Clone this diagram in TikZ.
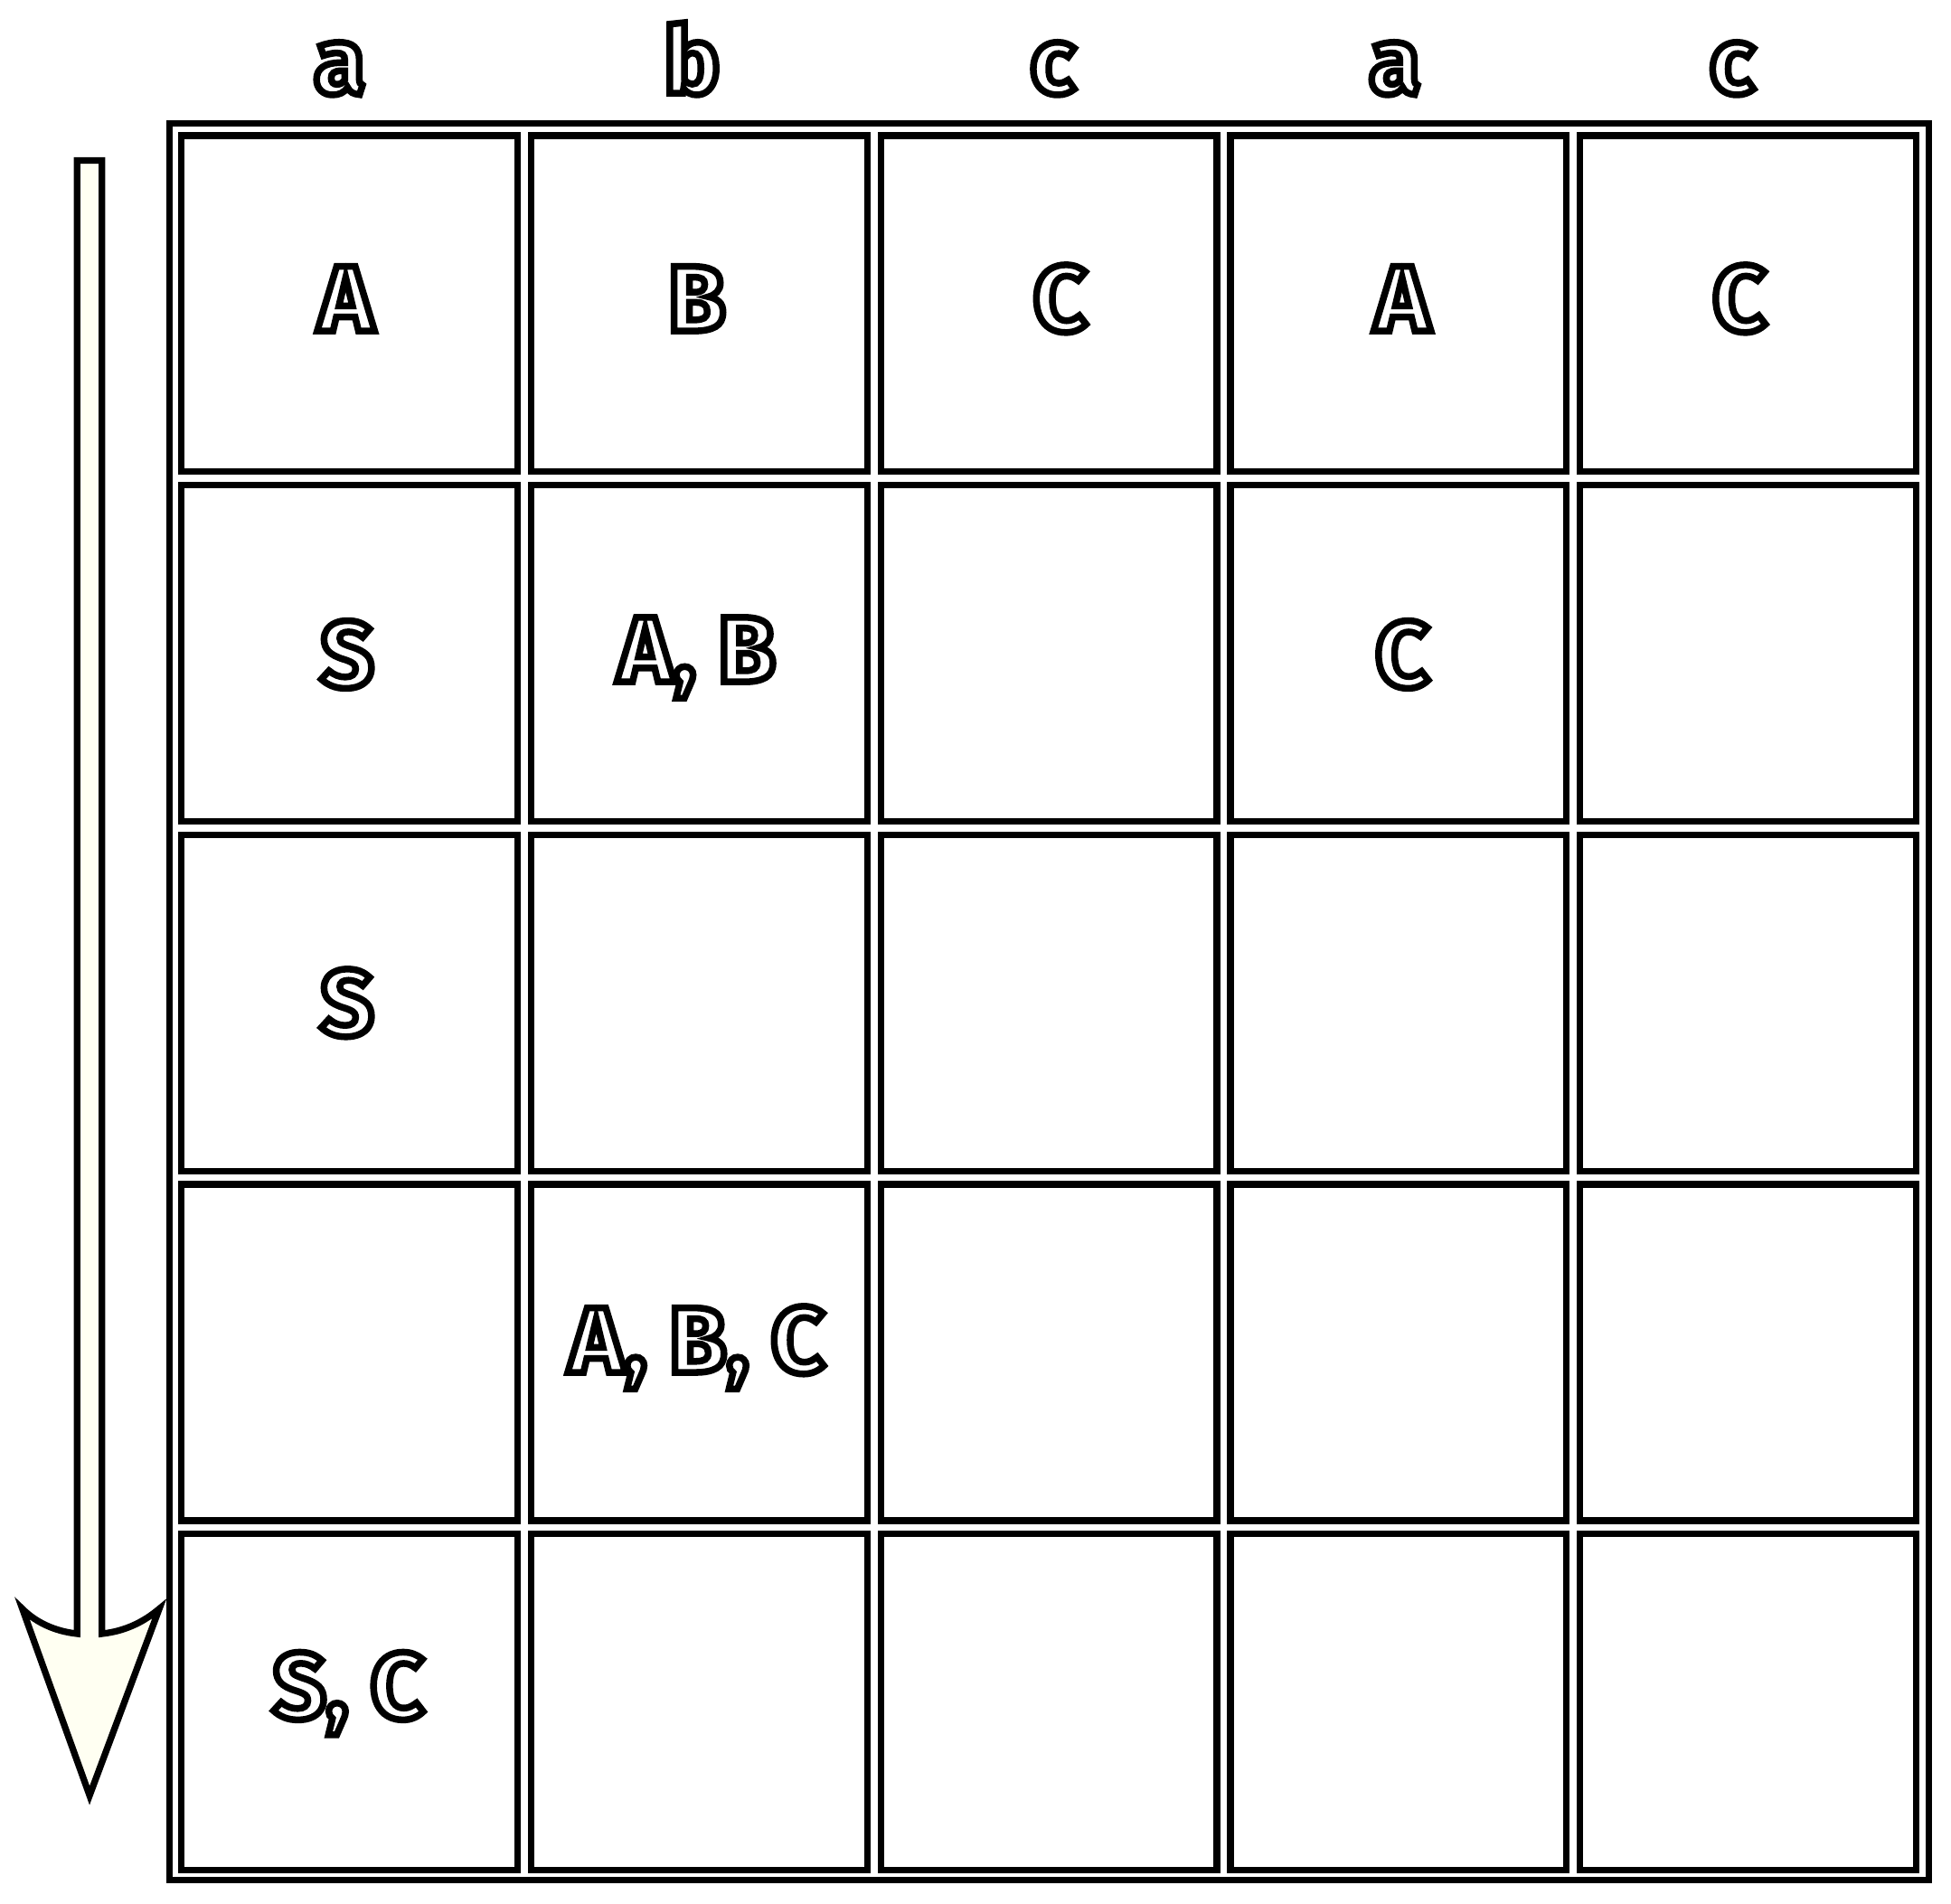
\documentclass[tikz,border=0pt]{standalone}
\usepackage{fontspec}
\setmainfont{Fira Sans}
\newcommand\outl[1]{\special{pdf:literal direct 2 Tr 1.55 w 1 g 0 G}#1\special{pdf:literal direct 0 Tr 0 g 0 G}}
\definecolor{arrowfill}{RGB}{255,255,242}
\tikzset{
  cellbox/.style={draw, line width=1.5pt, minimum width=2.7cm, minimum height=2.7cm, inner sep=0pt},
  frame/.style={draw, line width=1.5pt},
  lbl/.style={anchor=base, inner sep=0pt, font=\bfseries\fontsize{21.3}{26}\selectfont},
}
\begin{document}
\begin{tikzpicture}[x=0.01cm,y=-0.01cm]
\useasboundingbox (0,0) rectangle (1568,1530);
% outer frame
\draw[frame] (136,99) rectangle (1550,1511);
% cells
\foreach \i in {0,...,4}{
  \foreach \j in {0,...,4}{
    \node[cellbox] (c-\i-\j) at ({281+281*\i},{244+281*\j}) {};
  }
}
% column labels
\node[lbl] (h1) at (273,75) {\outl{a}};
\node[lbl] (h2) at (556,75) {\outl{b}};
\node[lbl] (h3) at (846,75) {\outl{c}};
\node[lbl] (h4) at (1121,75) {\outl{a}};
\node[lbl] (h5) at (1392,75) {\outl{c}};
% cell texts
\node[lbl] (t00) at (278,266) {\outl{A}};
\node[lbl] (t10) at (560,266) {\outl{B}};
\node[lbl] (t20) at (852,266) {\outl{C}};
\node[lbl] (t30) at (1127,266) {\outl{A}};
\node[lbl] (t40) at (1398,266) {\outl{C}};
\node[lbl] (t01) at (279,552) {\outl{S}};
\node[lbl] (t11) at (560,548) {\outl{A, B}};
\node[lbl] (t31) at (1127,552) {\outl{C}};
\node[lbl] (t02) at (279,832) {\outl{S}};
\node[lbl] (t13) at (560,1103) {\outl{A, B, C}};
\node[lbl] (t04) at (280,1381) {\outl{S, C}};
% arrow
\draw[line width=1.5pt, fill=arrowfill, line join=miter]
  (62,129) -- (82,129) -- (82,1313)
  .. controls (100,1311) and (115,1304) .. (128,1293)
  -- (72,1443) -- (18,1293)
  .. controls (29,1304) and (44,1311) .. (62,1313) -- cycle;
\end{tikzpicture}
\end{document}
